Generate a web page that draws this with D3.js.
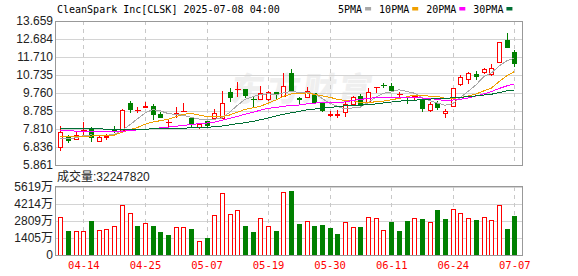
<!DOCTYPE html>
<html>
<head>
<meta charset="utf-8">
<script src="https://cdn.jsdelivr.net/npm/d3@7"></script>
<style>
  body { margin: 0; background: #fff; }
  svg { display: block; }
</style>
</head>
<body>
<div id="chart"></div>
<script>
const dates = ['04-09','04-10','04-11','04-14','04-15','04-16','04-17','04-21','04-22','04-23',
  '04-24','04-25','04-28','04-29','04-30','05-01','05-02','05-05','05-06','05-07',
  '05-08','05-09','05-12','05-13','05-14','05-15','05-16','05-19','05-20','05-21',
  '05-22','05-23','05-27','05-28','05-29','05-30','06-02','06-03','06-04','06-05',
  '06-06','06-09','06-10','06-11','06-12','06-13','06-16','06-17','06-18','06-20',
  '06-23','06-24','06-25','06-26','06-27','06-30','07-01','07-02','07-03','07-07'];

const open = [6.83,7.42,7.28,7.76,7.85,7.15,7.40,7.75,7.77,9.23,
  8.83,9.01,9.05,8.61,8.18,8.64,8.76,8.42,7.90,8.24,
  8.39,8.42,9.80,9.96,9.98,9.45,9.42,9.42,9.80,9.61,
  10.83,9.49,9.56,9.78,9.29,8.59,8.58,8.71,9.15,9.61,
  9.29,10.08,10.21,10.14,9.68,9.40,9.58,9.38,8.84,9.23,
  8.69,9.07,10.25,10.50,10.79,10.88,10.79,11.42,12.63,11.96];
const high = [7.99,7.47,7.63,8.20,7.93,7.49,7.54,7.99,8.88,9.32,
  9.02,9.28,9.18,8.75,8.29,8.98,9.20,8.48,8.12,8.24,
  8.89,9.87,10.05,10.34,10.00,9.56,10.14,9.87,9.80,10.83,
  11.06,9.56,10.10,9.78,9.29,8.78,8.84,9.26,9.61,9.69,
  10.01,10.10,10.32,10.29,9.83,9.61,9.65,9.38,9.26,9.33,
  8.89,10.01,10.73,10.91,10.95,11.13,11.31,12.50,12.99,12.09];
const low = [6.60,7.07,7.19,7.37,7.10,7.10,7.19,7.60,7.72,8.70,
  8.66,8.93,8.29,8.47,7.93,8.39,8.74,7.94,7.80,7.94,
  8.30,8.39,9.29,9.56,9.51,8.96,9.38,9.34,9.38,9.56,
  9.83,9.11,9.47,9.16,8.75,8.48,8.43,8.48,9.11,9.02,
  9.20,9.74,10.01,9.83,9.53,9.15,9.33,8.72,8.72,8.84,
  8.42,9.02,10.14,10.23,10.47,10.79,10.68,11.42,12.22,11.15];
const close = [7.63,7.20,7.49,7.78,7.37,7.38,7.42,7.72,8.82,8.87,
  8.85,9.05,8.64,8.47,8.20,8.66,8.78,8.07,8.09,8.04,
  8.66,9.20,9.56,9.98,9.65,9.42,9.74,9.80,9.69,10.14,
  9.88,9.46,9.87,9.29,8.84,8.62,8.60,9.16,9.53,9.11,
  9.80,10.10,10.17,9.92,9.70,9.37,9.61,8.93,9.15,9.02,
  8.80,10.01,10.61,10.83,10.68,11.04,11.10,12.50,12.27,11.37];

// 成交量, 单位: 万股
const volume = [3113,1984,1984,1984,2810,2039,2149,2397,4105,3444,
  2397,2617,2397,1901,1653,2314,2287,2149,1185,1405,
  3278,5097,3361,3719,2397,1901,3031,2369,1984,5179,
  5290,2562,2783,2397,2480,2232,1736,2700,2314,2314,
  3113,3031,2039,2727,1984,2810,3031,2975,2700,3719,
  2975,3774,3444,3031,2893,3113,2865,4105,2149,3224.782];

const ma5 = [7.28,7.30,7.33,7.45,7.49,7.43,7.47,7.52,7.73,8.03,
  8.35,8.67,8.86,8.79,8.65,8.60,8.55,8.44,8.35,8.33,
  8.33,8.41,8.71,9.09,9.41,9.56,9.67,9.72,9.66,9.76,
  9.85,9.79,9.81,9.73,9.47,9.21,9.04,8.90,8.95,9.00,
  9.24,9.54,9.74,9.82,9.94,9.85,9.75,9.51,9.35,9.22,
  9.10,9.18,9.52,9.85,10.19,10.63,10.84,11.21,11.50,11.64];
const ma10 = [7.40,7.40,7.41,7.42,7.43,7.44,7.45,7.48,7.62,7.76,
  7.89,8.07,8.19,8.26,8.34,8.48,8.61,8.65,8.57,8.49,
  8.47,8.48,8.57,8.72,8.87,8.95,9.04,9.21,9.38,9.58,
  9.71,9.73,9.76,9.69,9.61,9.53,9.42,9.36,9.34,9.24,
  9.23,9.29,9.32,9.39,9.47,9.55,9.65,9.62,9.59,9.58,
  9.48,9.47,9.51,9.60,9.70,9.87,10.02,10.37,10.69,10.92];
const ma20 = [7.72,7.71,7.70,7.69,7.68,7.67,7.66,7.66,7.68,7.73,
  7.76,7.79,7.83,7.87,7.91,7.96,8.01,8.05,8.10,8.13,
  8.18,8.28,8.38,8.49,8.61,8.71,8.83,8.93,8.97,9.04,
  9.09,9.11,9.17,9.21,9.24,9.24,9.23,9.28,9.36,9.41,
  9.47,9.51,9.54,9.54,9.54,9.54,9.53,9.49,9.46,9.41,
  9.35,9.38,9.42,9.49,9.59,9.71,9.83,10.00,10.14,10.25];
const ma30 = [7.85,7.85,7.85,7.85,7.84,7.82,7.80,7.78,7.77,7.77,
  7.78,7.80,7.82,7.83,7.84,7.85,7.86,7.87,7.88,7.90,
  7.93,7.97,8.03,8.10,8.15,8.22,8.31,8.41,8.51,8.61,
  8.69,8.76,8.84,8.89,8.94,8.98,9.02,9.07,9.10,9.10,
  9.13,9.17,9.22,9.27,9.32,9.34,9.37,9.40,9.43,9.47,
  9.47,9.50,9.53,9.56,9.60,9.65,9.69,9.78,9.87,9.91];

const priceTicks = [13.659, 12.684, 11.710, 10.735, 9.760, 8.785, 7.810, 6.836, 5.861];
const volTicks = [5619, 4214, 2809, 1405, 0];
const dateTicks = ['04-14','04-25','05-07','05-19','05-30','06-11','06-24','07-07'];

const RED = '#ff0000', GREEN = '#008000';
const maSeries = [
  { label: '5PMA', values: ma5, color: '#a8a8a8' },
  { label: '10PMA', values: ma10, color: '#f0a000' },
  { label: '20PMA', values: ma20, color: '#ff00ff' },
  { label: '30PMA', values: ma30, color: '#006f35' },
];

const width = 578, height = 276;
const left = 56, right = 522;
const pTop = 21, pBottom = 165, vTop = 187, vBottom = 255;
const MONO = '"DejaVu Sans Mono", "Liberation Mono", monospace';
const SANS = '"Liberation Sans", Arial, "Noto Sans CJK SC", sans-serif';

const svg = d3.select('#chart').append('svg')
  .attr('width', width).attr('height', height);

const x = d3.scalePoint().domain(dates).range([60.3, 514.3]);
const y = d3.scaleLinear().domain([5.861, 13.659]).range([pBottom, pTop]);
const yv = d3.scaleLinear().domain([0, 5619]).range([vBottom, vTop]);
const px = d => Math.round(x(d)) + 0.5;

// watermark
svg.append('text')
  .attr('x', 232).attr('y', 101)
  .attr('transform', 'skewX(-8)').attr('dx', 12)
  .attr('font-family', '"Noto Sans CJK SC", sans-serif')
  .attr('font-weight', 900).attr('font-size', 33)
  .attr('letter-spacing', 3)
  .attr('fill', '#efefef')
  .text('东方财富');

// Horizontal grid + y labels
function styleAxis(g) {
  g.select('.domain').remove();
  g.selectAll('.tick line').attr('stroke', '#d4d4d4').attr('shape-rendering', 'crispEdges');
  g.selectAll('.tick text').attr('fill', '#222').attr('font-size', '12px').attr('font-family', SANS);
}

svg.append('g').attr('transform', `translate(${left},0)`)
  .call(d3.axisLeft(y).tickValues(priceTicks).tickSize(-(right - left)).tickPadding(3)
    .tickFormat(d3.format('.3f')))
  .call(styleAxis);

svg.append('g').attr('transform', `translate(${left},0)`)
  .call(d3.axisLeft(yv).tickValues(volTicks).tickSize(-(right - left)).tickPadding(3)
    .tickFormat(d => d === 0 ? '0' : d + '万'))
  .call(styleAxis);

// Vertical dashed grid
const vgrid = svg.append('g').attr('stroke', '#c8c8c8').attr('stroke-dasharray', '4,4')
  .attr('shape-rendering', 'crispEdges');
[[pTop, pBottom], [vTop, vBottom]].forEach(([a, b]) => {
  vgrid.selectAll(null).data(dateTicks).join('line')
    .attr('x1', px).attr('x2', px).attr('y1', a).attr('y2', b);
});

// Date labels
svg.append('g').attr('transform', `translate(0,${vBottom})`)
  .call(d3.axisBottom(x).tickValues(dateTicks).tickSize(0).tickPadding(7))
  .call(g => g.select('.domain').remove())
  .call(g => g.selectAll('.tick text').attr('fill', RED).attr('font-size', '10.5px')
    .attr('font-family', MONO));

// Candles
const bars = dates.map((d, i) => ({
  date: d, o: open[i], h: high[i], l: low[i], c: close[i], v: volume[i],
  up: close[i] >= open[i],
  volUp: i === 0 || close[i] >= close[i - 1],
}));

const candle = svg.append('g').attr('shape-rendering', 'crispEdges')
  .selectAll('g').data(bars).join('g');

candle.append('line')
  .attr('x1', d => px(d.date)).attr('x2', d => px(d.date))
  .attr('y1', d => Math.round(y(d.h))).attr('y2', d => Math.round(y(d.l)))
  .attr('stroke', d => d.up ? RED : GREEN);

candle.each(function(d) {
  const g = d3.select(this);
  const cx = px(d.date);
  const top = Math.round(y(Math.max(d.o, d.c))), bot = Math.round(y(Math.min(d.o, d.c)));
  const color = d.up ? RED : GREEN;
  if (bot - top < 1) {
    g.append('line').attr('x1', cx - 3).attr('x2', cx + 3)
      .attr('y1', top + 0.5).attr('y2', top + 0.5).attr('stroke', color);
  } else {
    g.append('rect').attr('x', cx - 2).attr('y', top + 0.5)
      .attr('width', 4).attr('height', bot - top)
      .attr('fill', d.up ? '#fff' : GREEN).attr('stroke', color);
  }
});

// MA lines (aliased 1px like the source)
const maLine = vals => d3.line().x((d, i) => x(dates[i])).y(d => y(d))(vals);
svg.append('g').attr('shape-rendering', 'crispEdges')
  .selectAll('path').data(maSeries).join('path')
  .attr('d', s => maLine(s.values))
  .attr('fill', 'none').attr('stroke', s => s.color).attr('stroke-width', 1);

// Volume bars
svg.append('g').attr('shape-rendering', 'crispEdges')
  .selectAll('rect').data(bars).join('rect')
  .attr('x', d => px(d.date) - 2).attr('y', d => Math.round(yv(d.v)) + 0.5)
  .attr('width', 4).attr('height', d => vBottom - Math.round(yv(d.v)) - 0.5)
  .attr('fill', d => d.volUp ? '#fff' : GREEN)
  .attr('stroke', d => d.volUp ? RED : GREEN);

// Borders
const border = svg.append('g').attr('fill', 'none').attr('stroke', '#999')
  .attr('shape-rendering', 'crispEdges');
border.append('rect').attr('x', left - 0.5).attr('y', pTop + 0.5)
  .attr('width', right - left + 1).attr('height', pBottom - pTop);
border.append('rect').attr('x', left - 0.5).attr('y', vTop - 0.5)
  .attr('width', right - left + 1).attr('height', vBottom - vTop + 1);

// Title
svg.append('text').attr('x', 57).attr('y', 12.5)
  .attr('font-family', MONO).attr('font-size', '10px').attr('fill', '#000')
  .text('CleanSpark Inc[CLSK] 2025-07-08 04:00');

// Legend
const legend = svg.append('g').attr('font-family', MONO).attr('font-size', '10px');
let lx = 338;
maSeries.forEach(s => {
  const t = legend.append('text').attr('x', lx).attr('y', 12.5).attr('fill', '#000').text(s.label);
  lx += t.node().getComputedTextLength() + 3;
  legend.append('rect').attr('x', lx).attr('y', 7).attr('width', 6).attr('height', 3.5)
    .attr('fill', s.color);
  lx += 6 + 8;
});

// Volume label
const lastVol = Math.round(volume[volume.length - 1] * 10000);
svg.append('text').attr('x', 57).attr('y', 181)
  .attr('font-family', SANS).attr('font-size', '12px').attr('fill', '#222')
  .text('成交量:' + lastVol);
</script>
</body>
</html>
